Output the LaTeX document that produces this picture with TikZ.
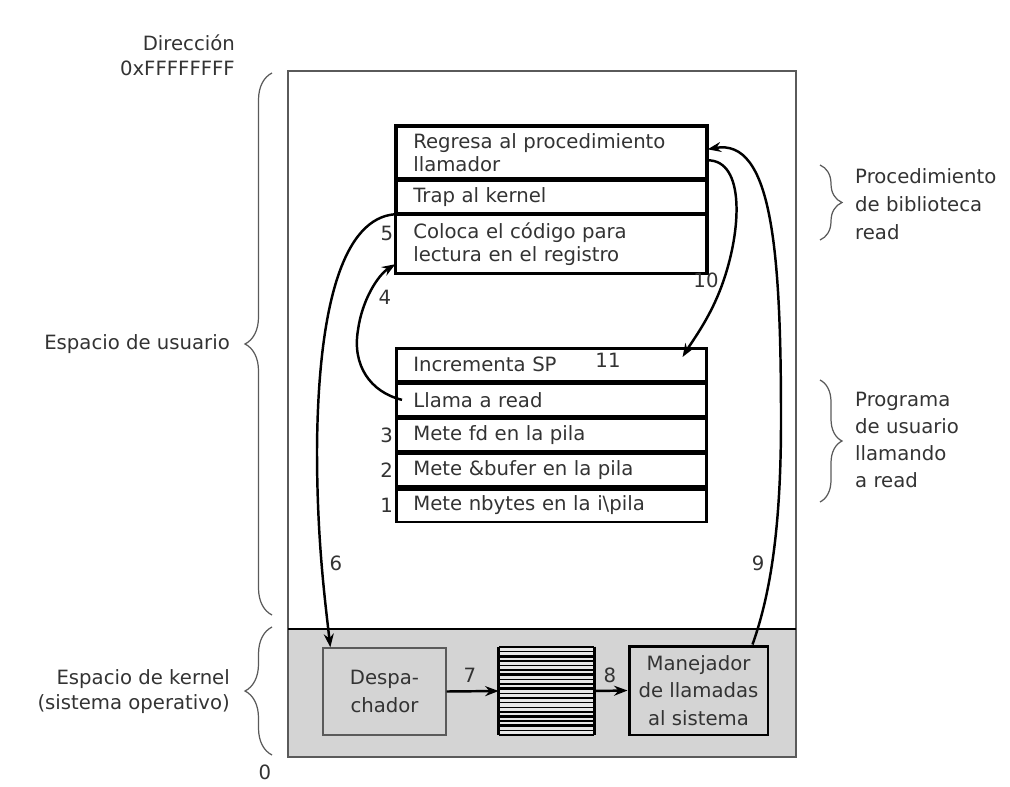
\documentclass[tikz,border=0pt]{standalone}
\usepackage{fontspec}
\setmainfont{DejaVu Sans}
\usepackage{tikz}
\usetikzlibrary{arrows.meta}
\usetikzlibrary{positioning, decorations.pathreplacing}

\definecolor{kernelgray}{HTML}{D4D4D4}
\definecolor{textgray}{HTML}{333333}
\definecolor{framegray}{HTML}{5A5A5A}

\begin{document}
\begin{tikzpicture}[x=0.02cm, y=-0.02cm,
	every node/.style={text=textgray, font=\fontsize{11.2}{15.5}\selectfont},
	row/.style={draw=black, line width=1.5pt, minimum width=6.2cm, text width=5.52cm,
		inner xsep=0.34cm, inner ysep=0pt, align=left, font=\fontsize{11.2}{13}\selectfont},
	num/.style={inner sep=1pt},
	kbox/.style={fill=kernelgray, align=center, inner sep=0pt},
	link/.style={line width=1.4pt, -{Stealth[length=0.27cm, width=0.2cm, inset=0.09cm]}},
	curly/.style={draw=framegray, line width=0.7pt, decorate, decoration={brace, amplitude=#1}}]
\useasboundingbox (0,0) rectangle (1010,787);

% memoria
\fill[kernelgray] (288,629) rectangle (796,757);
\draw[framegray, line width=0.7pt] (288,71) rectangle (796,757);
\draw[black, line width=0.7pt] (288,629) -- (796,629);

% procedimiento de biblioteca
\node[row, minimum height=1.04cm, anchor=north west] (regresa) at (395,125) {Regresa al procedimiento\\llamador};
\node[row, minimum height=0.64cm, below=0pt of regresa] (trap) {Trap al kernel};
\node[row, line width=1.1pt, minimum height=1.16cm, below=0pt of trap] (coloca) {Coloca el código para\\lectura en el registro};
\draw[line width=1.5pt] (regresa.north west) rectangle (coloca.south east);

% programa de usuario
\node[row, minimum height=0.652cm, anchor=north west] (incsp) at (395,347) {Incrementa SP};
\node[row, minimum height=0.652cm, below=0pt of incsp] (llama) {Llama a read};
\node[row, minimum height=0.652cm, below=0pt of llama] (metefd) {Mete fd en la pila};
\node[row, minimum height=0.652cm, below=0pt of metefd] (metebuf) {Mete \&bufer en la pila};
\node[row, minimum height=0.652cm, below=0pt of metebuf] (metenb) {Mete nbytes en la i\textbackslash pila};

% kernel
\node[kbox, draw=framegray, line width=0.8pt, minimum width=2.46cm, minimum height=1.74cm] (desp) at (384.5,691.5) {Despa-\\chador};
\node[fill=gray!18, minimum width=1.9cm, minimum height=1.76cm, inner sep=0pt] (tabla) at (546.5,691) {};
\foreach \k/\w in {0/1.5,1/0.7,2/1.5,3/0.7,4/0.7,5/1.5,6/1.5,7/0.7,8/0.7,9/1.5,
		10/0.7,11/0.7,12/0.7,13/0.7,14/1.5,15/1.5,16/0.7,17/1.5,18/0.7,19/1.5}
	\draw[line width=\w pt] (499,{647+\k*4.63}) -- (594,{647+\k*4.63});
\draw[line width=1.7pt] (tabla.north west) -- (tabla.south west);
\draw[line width=1.7pt] (tabla.north east) -- (tabla.south east);
\node[kbox, draw=black, line width=1.7pt, minimum width=2.78cm, minimum height=1.78cm] (manej) at (698.5,690.5) {Manejador\\de llamadas\\al sistema};

% flechas
\draw[link] (llama.west) ++(0.14cm,0) .. controls (370,392) and (352,365) .. (358,330)
	.. controls (362,300) and (378,275) .. ([yshift=0.2cm]coloca.south west);
\draw[link] (trap.south west) .. controls (345,218) and (318,300) .. (317,450)
	.. controls (317,540) and (325,600) .. ([xshift=0.16cm]desp.north west);
\draw[link] (desp.east) -- (tabla.west);
\draw[link] (tabla.east) -- (manej.west);
\draw[link] ([xshift=1.08cm]manej.north) .. controls (772,590) and (781,520) .. (781,420)
	.. controls (781,250) and (772,138) .. ([yshift=0.06cm]regresa.east);
\draw[link] ([yshift=-0.16cm]regresa.east) .. controls (745,160) and (742,230) .. (722,285)
	.. controls (710,318) and (693,340) .. ([xshift=-0.5cm, yshift=-0.2cm]incsp.north east);

% numeros
\node[num, left] (n5) at ([yshift=0.22cm]coloca.west) {5};
\node[num] (n4) at (385,297) {4};
\node[num] (n10) at (706,280) {10};
\node[num] (n11) at (608,360) {11};
\node[num, left] (n3) at (metefd.west) {3};
\node[num, left] (n2) at (metebuf.west) {2};
\node[num, left] (n1) at (metenb.west) {1};
\node[num] (n6) at (336,563) {6};
\node[num] (n9) at (758,563) {9};
\node[num] (n7) at (470,675) {7};
\node[num] (n8) at (610,675) {8};

% llaves y textos
\draw[curly=0.54cm] (272,615) -- (272,73);
\draw[curly=0.54cm] (272,755) -- (272,627);
\draw[curly=0.44cm] (820,165) -- (820,240);
\draw[curly=0.44cm] (820,380) -- (820,502);
\node[anchor=east, align=right, font=\fontsize{11.2}{14}\selectfont] (dir) at (241,55) {Dirección\\0xFFFFFFFF};
\node[anchor=east] (usuario) at (236,344) {Espacio de usuario};
\node[anchor=east, align=right, font=\fontsize{11.2}{14.2}\selectfont] (kernel) at (236,692) {Espacio de kernel\\(sistema operativo)};
\node (cero) at (265,772) {0};
\node[anchor=west, align=left, font=\fontsize{11.2}{15.8}\selectfont] (biblio) at (849,204) {Procedimiento\\de biblioteca\\read};
\node[anchor=west, align=left, font=\fontsize{11.2}{15.3}\selectfont] (progr) at (849,440) {Programa\\de usuario\\llamando\\a read};
\end{tikzpicture}
\end{document}
